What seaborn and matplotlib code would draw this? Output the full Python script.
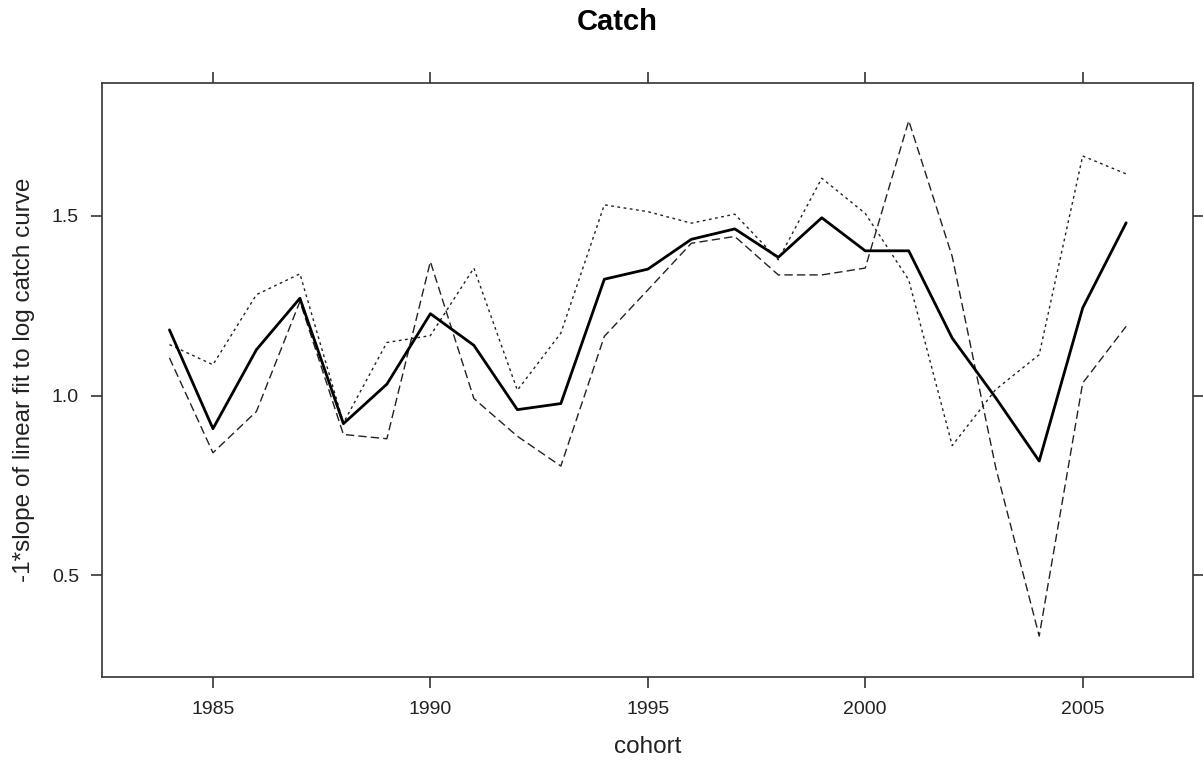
import matplotlib
matplotlib.use("Agg")
import matplotlib.pyplot as plt
import seaborn as sns
import pandas as pd

# Cohort years and the three slope estimates per cohort
cohorts = list(range(1984, 2007))
slope_main = [1.183, 0.908, 1.128, 1.271, 0.922, 1.032, 1.228, 1.140, 0.961, 0.978,
              1.324, 1.352, 1.435, 1.464, 1.385, 1.495, 1.403, 1.403, 1.160, 0.994,
              0.818, 1.244, 1.481]
slope_upper = [1.142, 1.086, 1.281, 1.339, 0.924, 1.148, 1.167, 1.355, 1.015, 1.174,
               1.531, 1.512, 1.480, 1.505, 1.378, 1.605, 1.507, 1.322, 0.861, 1.017,
               1.114, 1.667, 1.617]
slope_lower = [1.105, 0.841, 0.956, 1.262, 0.892, 0.880, 1.373, 0.992, 0.887, 0.804,
               1.165, 1.294, 1.424, 1.443, 1.336, 1.336, 1.355, 1.765, 1.387, 0.800,
               0.331, 1.035, 1.193]

x_ticks = [1985, 1990, 1995, 2000, 2005]
y_ticks = [0.5, 1.0, 1.5]
y_tick_labels = ["0.5", "1.0", "1.5"]

df = pd.DataFrame({"cohort": cohorts, "main": slope_main,
                   "upper": slope_upper, "lower": slope_lower})

sns.set_style("white")
plt.rcParams["font.family"] = ["Liberation Sans", "DejaVu Sans"]

fig = plt.figure(figsize=(12.03, 7.65), dpi=100)
ax = fig.add_axes([0.0852, 0.115, 0.9066, 0.7765])

sns.lineplot(data=df, x="cohort", y="lower", ax=ax, color="#222222",
             linewidth=1.0, linestyle=(0, (6, 3)))
sns.lineplot(data=df, x="cohort", y="upper", ax=ax, color="#222222",
             linewidth=1.0, linestyle=(0, (2, 2.5)))
sns.lineplot(data=df, x="cohort", y="main", ax=ax, color="black",
             linewidth=2.0)

# padding of 7% of the data range on each side
xmin, xmax = min(cohorts), max(cohorts)
xpad = 0.07 * (xmax - xmin)
ax.set_xlim(xmin - xpad, xmax + xpad)
ax.set_ylim(0.217, 1.870)

ax.set_xticks(x_ticks)
ax.set_yticks(y_ticks)
ax.set_yticklabels(y_tick_labels)

for side in ["left", "right", "top", "bottom"]:
    ax.spines[side].set_visible(True)
    ax.spines[side].set_color("#333333")
    ax.spines[side].set_linewidth(1.2)

ax.tick_params(direction="out", length=8, width=1.2, color="#333333",
               top=True, right=True, bottom=True, left=True,
               labeltop=False, labelright=False,
               labelsize=14, labelcolor="#222222", pad=9)

ax.set_xlabel("cohort", fontsize=17.5, color="#222222", labelpad=13)
ax.set_ylabel("-1*slope of linear fit to log catch curve", fontsize=17.5,
              color="#222222", labelpad=12)

fig.text(0.513, 0.9706, "Catch", ha="center", va="center",
         fontsize=21, fontweight="bold", color="black")

fig.savefig("out.png", dpi=100)
